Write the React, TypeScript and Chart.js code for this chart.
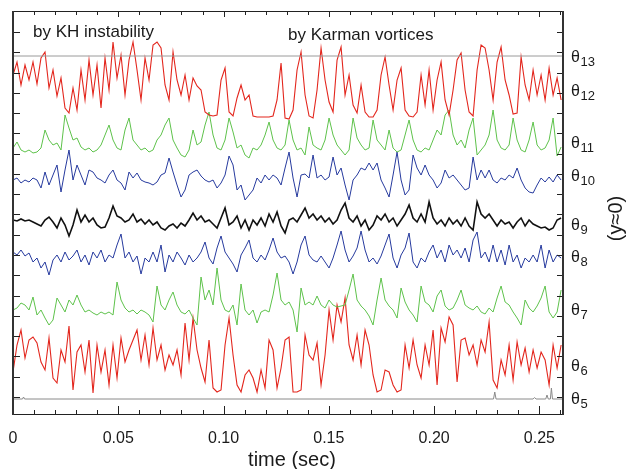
import React, { useEffect, useRef } from "react";
import { Chart, registerables } from "chart.js";

Chart.register(...registerables);

// ---- time axis ----
const SAMPLE_STEP = 0.0019; // seconds between samples
const X_MAX = 0.2612;
const Y_MIN = 0;
const Y_MAX = 40.3;

// ---- traces (arbitrary stacked units, uniform samples from t = 0) ----
const theta12 = [
  33.9, 35.2, 32.9, 34.9, 33.4, 35.2, 33.0, 35.6, 36.2, 32.6,
  34.4, 31.8, 33.6, 30.6, 30.1, 32.6, 30.4, 34.4, 31.4, 35.4,
  31.9, 34.9, 30.6, 35.6, 32.4, 37.2, 33.6, 35.9, 31.9, 35.4,
  37.2, 34.4, 31.4, 35.6, 33.4, 36.9, 37.2, 36.6, 32.9, 31.4,
  36.2, 33.4, 31.9, 33.9, 31.4, 33.6, 32.8, 32.4, 30.2, 29.9,
  29.8, 29.9, 33.4, 34.6, 30.2, 29.8, 31.6, 32.9, 31.4, 31.9,
  29.8, 29.7, 29.7, 29.7, 29.7, 29.8, 31.4, 35.1, 29.6, 29.5,
  30.4, 34.4, 36.2, 31.9, 29.8, 29.6, 32.4, 36.6, 33.4, 31.2,
  30.2, 35.4, 36.7, 31.9, 33.9, 30.9, 30.1, 32.9, 30.2, 29.7,
  29.7, 30.4, 33.9, 35.7, 32.9, 30.4, 33.4, 34.6, 30.4, 29.8,
  29.7, 30.2, 33.9, 30.9, 34.4, 30.4, 33.4, 35.2, 31.4, 29.9,
  32.4, 35.4, 36.1, 32.4, 30.2, 29.8, 34.4, 36.9, 36.6, 34.4,
  31.4, 35.2, 36.7, 33.4, 31.9, 30.0, 30.1, 35.7, 32.9, 31.4,
  34.4, 31.9, 33.9, 31.4, 34.6, 31.9, 33.6, 31.4,
];

const theta11 = [
  26.6, 27.2, 26.4, 26.2, 26.4, 26.1, 26.2, 26.6, 28.4, 27.4,
  26.9, 27.1, 26.4, 29.9, 28.6, 27.4, 27.6, 26.7, 26.4, 26.6,
  26.2, 26.4, 26.9, 27.9, 28.9, 27.4, 26.6, 26.4, 28.4, 29.6,
  27.4, 26.9, 26.4, 26.6, 26.2, 26.4, 27.4, 27.9, 28.9, 29.6,
  27.4, 26.6, 25.9, 25.7, 26.4, 28.4, 26.9, 27.2, 28.9, 30.2,
  27.9, 26.6, 26.4, 27.4, 29.6, 28.2, 26.6, 26.9, 25.9, 25.6,
  26.6, 26.4, 26.9, 27.9, 29.2, 27.4, 26.6, 26.4, 26.9, 29.4,
  27.4, 26.4, 26.6, 25.9, 28.7, 26.9, 26.6, 26.4, 27.4, 29.6,
  27.9, 26.9, 26.4, 25.9, 26.4, 29.6, 27.6, 26.9, 26.4, 26.6,
  29.4, 27.4, 26.9, 26.4, 28.4, 26.6, 26.2, 26.4, 27.9, 29.4,
  27.4, 26.4, 26.2, 26.6, 26.4, 27.4, 28.4, 27.9, 29.9, 30.4,
  27.9, 26.9, 27.4, 26.6, 28.4, 29.6, 25.9, 26.4, 26.9, 27.9,
  30.4, 27.4, 26.6, 26.4, 26.9, 29.6, 27.4, 26.4, 26.2, 27.4,
  29.2, 26.9, 26.4, 26.6, 27.4, 29.6, 25.8, 26.7,
];

const theta10 = [
  23.4, 23.6, 23.1, 23.4, 23.2, 23.6, 23.4, 22.6, 24.2, 22.9,
  23.9, 24.9, 22.2, 24.4, 26.4, 23.4, 24.9, 23.9, 22.9, 24.4,
  24.2, 23.6, 23.4, 23.1, 23.9, 24.4, 23.4, 23.1, 22.4, 24.2,
  23.6, 24.1, 23.4, 23.2, 23.1, 22.9, 23.2, 23.9, 24.1, 25.6,
  24.2, 22.9, 21.7, 22.4, 23.9, 24.2, 24.4, 23.8, 23.4, 23.2,
  23.4, 22.6, 23.1, 23.9, 25.8, 24.9, 22.4, 22.9, 21.4, 21.9,
  22.4, 23.6, 23.1, 23.9, 23.4, 23.9, 23.6, 22.9, 24.6, 26.2,
  23.6, 21.7, 23.9, 24.0, 23.6, 25.9, 23.6, 23.9, 23.4, 23.7,
  25.7, 23.9, 24.6, 22.9, 21.4, 23.4, 23.9, 24.6, 24.4, 25.1,
  24.4, 25.1, 23.4, 22.6, 21.7, 23.9, 26.2, 23.4, 21.9, 22.4,
  25.9, 24.6, 23.9, 24.9, 23.9, 23.4, 22.6, 23.1, 24.4, 23.6,
  23.9, 23.4, 22.9, 22.4, 22.6, 25.7, 23.4, 24.4, 23.6, 24.4,
  23.4, 23.1, 23.6, 23.4, 23.9, 23.6, 24.6, 23.4, 22.6, 22.2,
  22.1, 22.9, 23.6, 23.2, 23.7, 23.2, 23.9, 23.4,
];

const theta9 = [
  19.4, 19.3, 19.5, 19.3, 19.4, 19.2, 19.0, 18.8, 19.4, 19.7,
  19.2, 18.6, 19.6, 18.9, 17.8, 18.9, 20.4, 19.2, 19.9, 19.2,
  19.6, 18.9, 18.6, 18.7, 19.6, 20.8, 19.8, 19.6, 19.2, 19.4,
  20.0, 19.2, 19.5, 19.0, 19.4, 18.9, 19.2, 18.6, 18.4, 18.8,
  19.0, 18.6, 19.1, 18.8, 19.4, 20.1, 19.4, 19.8, 19.2, 19.4,
  19.0, 18.6, 19.6, 20.6, 18.9, 19.2, 19.8, 18.6, 19.4, 18.4,
  19.4, 18.9, 19.6, 18.8, 20.0, 19.2, 20.2, 18.8, 18.1, 19.4,
  19.6, 19.2, 19.9, 20.6, 19.6, 20.0, 19.4, 19.8, 19.2, 19.6,
  19.0, 19.4, 20.4, 21.1, 19.6, 19.2, 19.8, 18.8, 19.4, 18.4,
  18.9, 19.8, 19.4, 20.0, 19.2, 19.6, 18.8, 19.4, 20.0, 20.9,
  19.6, 19.2, 20.0, 19.2, 21.2, 19.6, 19.0, 19.4, 18.8, 19.6,
  19.0, 19.4, 18.8, 19.6, 18.8, 18.4, 21.2, 20.0, 19.6, 20.0,
  19.4, 18.8, 19.4, 19.0, 19.2, 18.6, 19.2, 19.6, 18.8, 19.4,
  19.0, 18.8, 18.6, 18.7, 18.4, 18.6, 19.4, 19.6,
];

const theta8 = [
  16.2, 15.9, 16.4, 15.8, 16.1, 15.2, 15.6, 14.6, 15.2, 13.9,
  15.4, 15.9, 15.2, 16.2, 15.4, 15.8, 16.4, 15.2, 15.9, 14.9,
  16.2, 15.6, 16.4, 15.2, 15.9, 15.6, 16.9, 18.0, 15.6, 16.2,
  15.2, 15.8, 14.0, 15.6, 15.2, 16.2, 15.2, 16.9, 14.2, 15.9,
  15.2, 16.2, 15.6, 14.9, 15.9, 15.2, 15.6, 16.2, 17.2, 15.6,
  15.0, 16.6, 17.8, 16.2, 15.6, 15.0, 14.2, 15.9, 16.6, 17.4,
  15.6, 15.2, 15.9, 15.4, 16.4, 17.6, 16.2, 15.6, 15.8, 15.2,
  14.0, 15.2, 16.9, 17.8, 15.9, 15.4, 15.2, 15.8, 15.2, 14.6,
  15.6, 16.9, 18.3, 16.4, 15.2, 15.8, 16.6, 18.3, 16.4, 15.2,
  15.6, 15.0, 15.8, 16.9, 18.0, 15.6, 14.6, 15.9, 16.6, 18.1,
  15.2, 14.6, 15.6, 15.2, 16.2, 16.9, 15.6, 16.4, 15.2, 16.9,
  15.9, 16.4, 15.6, 16.6, 15.2, 17.4, 18.2, 15.6, 16.2, 15.2,
  16.9, 15.2, 16.4, 14.9, 16.9, 15.2, 15.9, 14.6, 15.6, 15.2,
  15.9, 15.2, 16.9, 14.6, 16.4, 15.2, 15.9, 15.6,
];

const theta7 = [
  10.4, 10.6, 11.1, 10.9, 10.4, 11.7, 9.9, 10.4, 9.6, 8.9,
  9.4, 11.6, 10.9, 10.2, 11.4, 10.9, 11.9, 10.9, 10.2, 10.4,
  10.1, 9.9, 10.2, 10.0, 10.2, 9.9, 13.2, 11.4, 10.6, 10.2,
  10.4, 10.0, 10.4, 10.2, 9.9, 9.2, 12.8, 10.9, 10.4, 11.4,
  12.2, 10.9, 10.2, 10.0, 10.4, 9.6, 8.9, 13.7, 11.4, 12.4,
  10.9, 14.6, 11.4, 10.4, 10.2, 10.9, 8.9, 13.0, 10.4, 9.9,
  10.4, 9.1, 10.2, 10.4, 10.2, 11.9, 14.1, 11.4, 10.9, 11.2,
  10.4, 8.2, 12.6, 10.9, 11.2, 10.9, 11.8, 10.9, 10.6, 11.4,
  10.9, 10.7, 10.8, 10.9, 12.4, 14.0, 11.4, 10.8, 10.4, 9.8,
  8.9, 11.4, 13.6, 11.4, 10.8, 10.4, 9.6, 12.6, 11.2, 10.4,
  9.9, 9.2, 12.8, 11.2, 10.9, 10.2, 11.8, 12.4, 10.8, 10.4,
  10.6, 11.4, 12.4, 10.9, 10.6, 10.4, 10.8, 10.2, 10.0, 10.6,
  10.2, 11.6, 12.8, 11.2, 10.9, 10.2, 9.6, 8.9, 11.4, 10.6,
  10.2, 10.8, 11.6, 12.8, 10.2, 9.6, 10.2, 12.4,
];

const theta6 = [
  4.2, 6.9, 8.4, 5.6, 7.4, 7.7, 7.1, 5.2, 4.4, 7.6,
  3.6, 3.1, 6.4, 5.2, 8.8, 2.4, 6.2, 6.9, 4.2, 7.4,
  2.1, 6.9, 4.2, 6.4, 2.9, 6.9, 3.6, 7.6, 5.2, 6.4,
  7.4, 8.4, 5.4, 7.9, 4.9, 8.6, 5.4, 6.9, 4.4, 5.9,
  4.9, 6.4, 3.9, 9.1, 5.4, 9.6, 6.4, 4.6, 3.2, 7.4,
  2.6, 2.2, 2.4, 6.9, 9.6, 5.9, 2.9, 2.2, 3.9, 4.4,
  3.6, 2.2, 4.4, 2.6, 7.4, 6.4, 2.6, 4.6, 7.4, 7.7,
  2.2, 2.2, 2.4, 7.9, 5.9, 5.4, 7.1, 2.9, 5.9, 10.4,
  7.4, 10.9, 9.2, 11.6, 6.9, 5.4, 7.9, 4.9, 8.4, 6.9,
  3.9, 2.2, 2.4, 4.4, 4.2, 2.9, 2.2, 2.4, 6.9, 4.6,
  7.4, 4.9, 3.6, 6.9, 4.9, 8.4, 2.9, 8.6, 7.2, 9.7,
  8.9, 3.2, 7.4, 7.6, 5.9, 6.9, 4.9, 7.4, 6.2, 9.2,
  3.4, 2.6, 5.4, 3.9, 6.9, 3.4, 7.2, 4.9, 6.6, 4.2,
  6.4, 4.6, 6.2, 5.4, 2.9, 6.9, 4.6, 6.9,
];

// θ5: nearly flat trace with a few narrow spikes (irregular samples)
const theta5Times = [
  0, 0.0045, 0.005, 0.0055, 0.2282, 0.2288, 0.2294, 0.2470, 0.2477, 0.2484,
  0.2530, 0.2536, 0.2542, 0.2552, 0.2557, 0.2562, X_MAX,
];
const theta5 = [
  1.5, 1.5, 1.7, 1.5, 1.5, 2.2, 1.5, 1.5, 1.65, 1.5,
  1.5, 1.9, 1.5, 1.5, 2.6, 1.5, 1.5,
];

// θ13: constant reference level
const theta13Times = [0, X_MAX];
const theta13 = [35.8, 35.8];

// ---- axes ----
const xMajorValues = [0, 0.05, 0.1, 0.15, 0.2, 0.25];
const xMajorLabels = ["0", "0.05", "0.10", "0.15", "0.20", "0.25"];
const xMinorStep = 0.01;
const xMinorCount = 26;
const yTickStart = 1.7;
const yTickStep = 2.028;
const yTickCount = 19;
const traceNames = ["13", "12", "11", "10", "9", "8", "7", "6", "5"];

const FONT = "'Liberation Sans', Arial, Helvetica, sans-serif";

const uniform = (vals: number[]) =>
  vals.map((y, i) => ({ x: +(i * SAMPLE_STEP).toFixed(5), y }));
const paired = (ts: number[], vals: number[]) =>
  vals.map((y, i) => ({ x: ts[i], y }));

export default function App() {
  const ref = useRef<HTMLCanvasElement | null>(null);

  useEffect(() => {
    if (!ref.current) return;

    // label anchor levels (plot units) for the trace names on the right
    const nameLevels = [35.8, 32.4, 27.2, 23.9, 19.0, 15.8, 10.5, 4.9, 1.6];

    const decor = {
      id: "decor",
      afterDraw(chart: any) {
        const { ctx, chartArea: a, scales } = chart;
        const xs = scales.x;
        const ys = scales.y;
        ctx.save();

        // inward ticks
        ctx.strokeStyle = "#222";
        ctx.lineWidth = 1;
        ctx.beginPath();
        for (let i = 0; i <= xMinorCount; i++) {
          const v = i * xMinorStep;
          const px = Math.round(xs.getPixelForValue(v)) + 0.5;
          const major = i % 5 === 0;
          ctx.moveTo(px, a.bottom);
          ctx.lineTo(px, a.bottom - (major ? 8 : 4));
          ctx.moveTo(px, a.top);
          ctx.lineTo(px, a.top + (major ? 6 : 4));
        }
        for (let k = 0; k < yTickCount; k++) {
          const v = yTickStart + k * yTickStep;
          const py = Math.round(ys.getPixelForValue(v)) + 0.5;
          ctx.moveTo(a.left, py);
          ctx.lineTo(a.left + 7, py);
          ctx.moveTo(a.right, py);
          ctx.lineTo(a.right - 6, py);
        }
        ctx.stroke();

        // frame
        ctx.lineWidth = 1.2;
        ctx.strokeStyle = "#222";
        ctx.beginPath();
        ctx.moveTo(a.left, a.top + 0.5);
        ctx.lineTo(a.right, a.top + 0.5);
        ctx.moveTo(a.left, a.bottom + 0.5);
        ctx.lineTo(a.right, a.bottom + 0.5);
        ctx.stroke();
        ctx.lineWidth = 2;
        ctx.strokeStyle = "#333";
        ctx.beginPath();
        ctx.moveTo(a.left, a.top);
        ctx.lineTo(a.left, a.bottom + 1);
        ctx.moveTo(a.right, a.top);
        ctx.lineTo(a.right, a.bottom + 1);
        ctx.stroke();

        ctx.fillStyle = "#1a1a1a";

        // x tick labels
        ctx.font = `16px ${FONT}`;
        ctx.textAlign = "center";
        ctx.textBaseline = "middle";
        xMajorValues.forEach((v, i) => {
          ctx.fillText(xMajorLabels[i], xs.getPixelForValue(v), a.bottom + 25);
        });

        // x title
        ctx.font = `20px ${FONT}`;
        ctx.fillText("time (sec)", (a.left + a.right) / 2 + 4, a.bottom + 46);

        // annotations
        ctx.font = `17px ${FONT}`;
        ctx.textAlign = "left";
        ctx.textBaseline = "alphabetic";
        ctx.fillText("by KH instability", a.left + 20, a.top + 26);
        ctx.fillText("by Karman vortices", a.left + 275, a.top + 29);

        // trace names θn on the right
        nameLevels.forEach((lv, i) => {
          const cy = ys.getPixelForValue(lv);
          const x0 = a.right + 8;
          ctx.font = `16px ${FONT}`;
          ctx.textBaseline = "alphabetic";
          ctx.fillText("θ", x0, cy + 6);
          const w = ctx.measureText("θ").width;
          ctx.font = `13px ${FONT}`;
          ctx.fillText(traceNames[i], x0 + w + 0.5, cy + 10);
        });

        // right vertical title
        ctx.save();
        ctx.translate(a.right + 53, (a.top + a.bottom) / 2 + 6);
        ctx.rotate(-Math.PI / 2);
        ctx.font = `20px ${FONT}`;
        ctx.textAlign = "center";
        ctx.textBaseline = "middle";
        ctx.fillText("(y≈0)", 0, 0);
        ctx.restore();

        ctx.restore();
      },
    };

    const mk = (data: any[], color: string, width: number) => ({
      data,
      borderColor: color,
      borderWidth: width,
      pointRadius: 0,
      tension: 0,
      fill: false,
    });

    const chart = new Chart(ref.current, {
      type: "line",
      data: {
        datasets: [
          mk(paired(theta13Times, theta13), "#9a9a9a", 1),
          mk(uniform(theta12), "#e3261d", 1.1),
          mk(uniform(theta11), "#5ec24b", 1),
          mk(uniform(theta10), "#263a9e", 1),
          mk(uniform(theta9), "#111111", 1.6),
          mk(uniform(theta8), "#263a9e", 1),
          mk(uniform(theta7), "#5ec24b", 1),
          mk(uniform(theta6), "#e3261d", 1.1),
          mk(paired(theta5Times, theta5), "#8a8a8a", 1),
        ],
      },
      options: {
        animation: false,
        responsive: false,
        devicePixelRatio: 1,
        layout: { padding: { left: 13, right: 64, top: 11, bottom: 55 } },
        plugins: { legend: { display: false }, tooltip: { enabled: false } },
        scales: {
          x: { type: "linear", min: 0, max: X_MAX, display: false },
          y: { type: "linear", min: Y_MIN, max: Y_MAX, display: false },
        },
      },
      plugins: [decor],
    } as any);

    return () => chart.destroy();
  }, []);

  return (
    <div style={{ position: "fixed", left: 0, top: 0, width: 627, height: 469, background: "#fff" }}>
      <canvas ref={ref} width={627} height={469} style={{ display: "block" }} />
    </div>
  );
}
